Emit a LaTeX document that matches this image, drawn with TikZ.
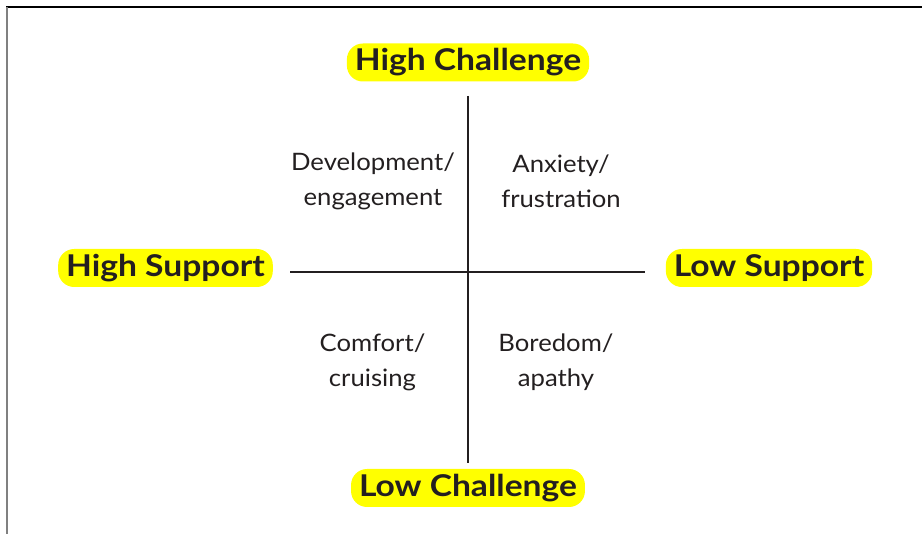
\documentclass[tikz,border=0pt]{standalone}
\usepackage{fontspec}
\setmainfont{Lato}
\newfontfamily\polefont[FakeStretch=1.12]{Lato Bold}
\newfontfamily\zonefont[FakeStretch=1.07]{Lato}
\usepackage{xcolor}
\usepackage{tikz}
\definecolor{ink}{HTML}{231F20}
\definecolor{hilite}{HTML}{FFFF00}
\definecolor{edge}{HTML}{808080}
\tikzset{
  axis/.style={draw=ink, line width=1.5pt},
  frametop/.style={draw=black, line width=1.3pt},
  frameleft/.style={draw=edge, line width=1.6pt},
  pole/.style={fill=hilite, text=ink, rounded corners=16pt, inner xsep=8pt,
    minimum height=38pt, font=\polefont\fontsize{30}{32}\selectfont},
  zone/.style={text=ink, align=center, font=\zonefont\fontsize{24}{35}\selectfont}
}

\begin{document}
\begin{tikzpicture}[x=1pt, y=-1pt]
  \useasboundingbox (0,0) rectangle (922,534);
  % frame
  \draw[frametop] (6,7) -- (922,7);
  \draw[frameleft] (7,7) -- (7,534);
  % axes
  \coordinate (top) at (468,96);
  \coordinate (bot) at (468,463);
  \coordinate (lft) at (290,272);
  \coordinate (rgt) at (645,272);
  \draw[axis] (top) -- (bot);
  \draw[axis] (lft) -- (rgt);
  % poles
  \node[pole] (hichal) at (468,62.5) {High Challenge};
  \node[pole] (lochal) at (468,488) {Low Challenge};
  \node[pole] (hisup)  at (165.5,268) {High Support};
  \node[pole] (losup)  at (769,268) {Low Support};
  % quadrants
  \node[zone] (dev)  at (373,181) {Development/\\engagement};
  \node[zone] (anx)  at (561,181) {Anxiety/\\frustration};
  \node[zone] (comf) at (372.5,362) {Comfort/\\cruising};
  \node[zone] (bore) at (556,362) {Boredom/\\apathy};
\end{tikzpicture}
\end{document}
